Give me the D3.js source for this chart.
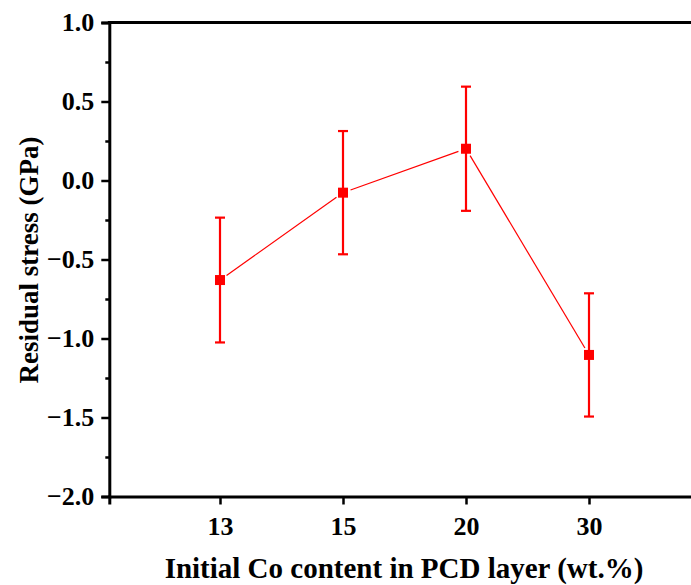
<!DOCTYPE html>
<html>
<head>
<meta charset="utf-8">
<script src="https://cdn.jsdelivr.net/npm/d3@7"></script>
<style>
  html, body { margin: 0; padding: 0; background: #fff; }
  svg { display: block; }
  text { font-family: "Liberation Serif", "Times New Roman", serif; font-weight: bold; }
</style>
</head>
<body>
<svg id="chart" width="691" height="585"></svg>
<script>
const categories = ["13", "15", "20", "30"];
const stress = [-0.63, -0.077, 0.201, -1.104];
const errors = [0.395, 0.39, 0.393, 0.39];
const yTicks = [1.0, 0.5, 0.0, -0.5, -1.0, -1.5, -2.0];
const yMinorTicks = [0.75, 0.25, -0.25, -0.75, -1.25, -1.75];
const xTitle = "Initial Co content in PCD layer (wt.%)";
const yTitle = "Residual stress (GPa)";

const svg = d3.select("#chart");
const red = "#ff0000";

const x = d3.scaleLinear().domain([0.1, 4.9]).range([109.3, 699.7]);
const y = d3.scaleLinear().domain([-2, 1]).range([496.5, 22.5]);

const fmt = d => (d < 0 ? "\u2212" : "") + Math.abs(d).toFixed(1);

// Y axis (left)
const yAxis = d3.axisLeft(y).tickValues(yTicks).tickFormat(fmt).tickSizeOuter(0).tickSize(8).tickPadding(7);
const gy = svg.append("g").attr("transform", `translate(${x(0.1)},0)`).call(yAxis);
gy.attr("font-size", null).attr("font-family", null);
gy.selectAll("text").style("font-size", "26px").attr("fill", "#000");
gy.selectAll("line").attr("stroke-width", 2.5).attr("stroke", "#000");
gy.select(".domain").attr("stroke-width", 3).attr("stroke", "#000");
const yMinor = d3.axisLeft(y).tickValues(yMinorTicks).tickFormat("").tickSize(4).tickSizeOuter(0);
const gym = svg.append("g").attr("transform", `translate(${x(0.1)},0)`).call(yMinor);
gym.select(".domain").remove();
gym.selectAll("line").attr("stroke-width", 2.5).attr("stroke", "#000");

// X axis (bottom)
const xAxis = d3.axisBottom(x).tickValues([1, 2, 3, 4]).tickFormat((d, i) => categories[i]).tickSizeOuter(0).tickSize(8).tickPadding(12);
const gx = svg.append("g").attr("transform", `translate(0,${y(-2)})`).call(xAxis);
gx.attr("font-size", null).attr("font-family", null);
gx.selectAll("text").style("font-size", "26px").attr("fill", "#000");
gx.selectAll("line").attr("stroke-width", 2.5).attr("stroke", "#000");
gx.select(".domain").attr("stroke-width", 3).attr("stroke", "#000");

// Top frame line
svg.append("line").attr("x1", x(0.1) - 1.5).attr("x2", x(4.9)).attr("y1", y(1)).attr("y2", y(1))
  .attr("stroke", "#000").attr("stroke-width", 3);
// Right frame line (off-canvas)
svg.append("line").attr("x1", x(4.9)).attr("x2", x(4.9)).attr("y1", y(1)).attr("y2", y(-2))
  .attr("stroke", "#000").attr("stroke-width", 3);

// Connecting line segments with small gaps at markers
const pts = stress.map((v, i) => ({ px: x(i + 1), py: y(v) }));
const gap = 8;
for (let i = 0; i < pts.length - 1; i++) {
  const a = pts[i], b = pts[i + 1];
  const dx = b.px - a.px, dy = b.py - a.py, L = Math.hypot(dx, dy);
  const ux = dx / L, uy = dy / L;
  svg.append("line")
    .attr("x1", a.px + ux * gap).attr("y1", a.py + uy * gap)
    .attr("x2", b.px - ux * gap).attr("y2", b.py - uy * gap)
    .attr("stroke", red).attr("stroke-width", 1.2);
}

// Error bars
const capW = 10;
const eg = svg.append("g");
stress.forEach((v, i) => {
  const cx = x(i + 1);
  eg.append("line").attr("x1", cx).attr("x2", cx).attr("y1", y(v + errors[i])).attr("y2", y(v - errors[i]))
    .attr("stroke", red).attr("stroke-width", 2.2);
  [v + errors[i], v - errors[i]].forEach(e => {
    eg.append("line").attr("x1", cx - capW / 2).attr("x2", cx + capW / 2).attr("y1", y(e)).attr("y2", y(e))
      .attr("stroke", red).attr("stroke-width", 2.2);
  });
});

// Markers
const ms = 10;
svg.append("g").selectAll("rect").data(stress).join("rect")
  .attr("x", (d, i) => x(i + 1) - ms / 2).attr("y", d => y(d) - ms / 2)
  .attr("width", ms).attr("height", ms).attr("fill", red);

// Axis titles
svg.append("text").attr("x", 404).attr("y", 578).attr("text-anchor", "middle")
  .style("font-size", "29px").attr("fill", "#000").text(xTitle);
svg.append("text").attr("transform", "translate(38,260) rotate(-90)").attr("text-anchor", "middle")
  .style("font-size", "27px").attr("fill", "#000").text(yTitle);
</script>
</body>
</html>
